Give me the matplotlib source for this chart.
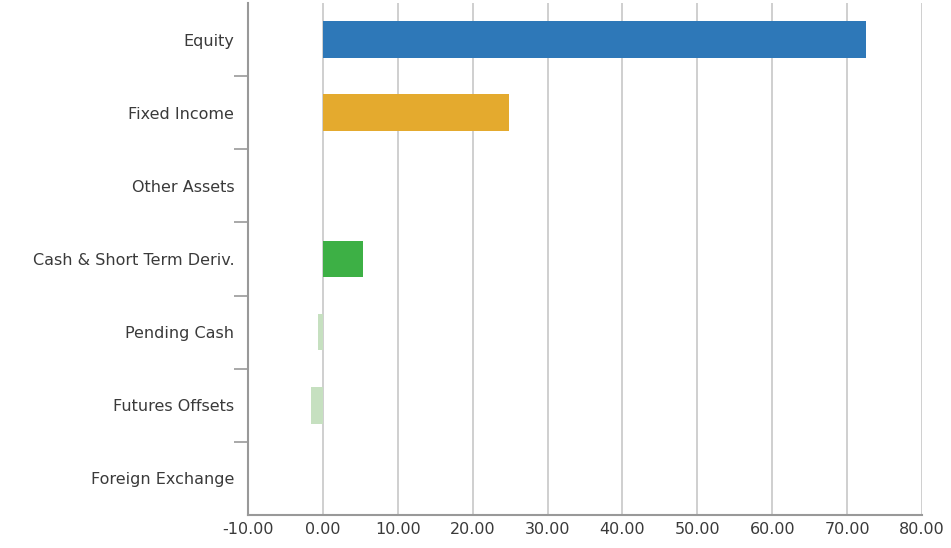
import matplotlib.pyplot as plt
import numpy as np

categories = ["Equity", "Fixed Income", "Other Assets", "Cash & Short Term Deriv.",
              "Pending Cash", "Futures Offsets", "Foreign Exchange"]
values = [72.5, 24.9, 0.0, 5.35, -0.6, -1.65, 0.0]
colors = ["#2e78b8", "#e4aa2e", "#ffffff", "#3db045", "#c6e0c0", "#c6e0c0", "#ffffff"]
x_ticks = [-10, 0, 10, 20, 30, 40, 50, 60, 70, 80]

plt.rcParams['font.family'] = ['DejaVu Sans']

fig = plt.figure(figsize=(9.51, 5.48), dpi=100)
ax = fig.add_axes([0.2608, 0.0602, 0.7087, 0.9343])

y = np.arange(len(categories))
ax.barh(y, values, height=0.5, color=colors, zorder=3)

ax.set_ylim(len(categories) - 0.5, -0.5)
ax.set_xlim(-10, 80)
ax.set_xticks(x_ticks)
ax.set_xticklabels(["%.2f" % v for v in x_ticks], fontsize=11.5, color="#3a3a3a")
ax.set_yticks(y)
ax.set_yticklabels(categories, fontsize=11.5, color="#3a3a3a")
ax.tick_params(axis='y', which='major', length=0, pad=10)
ax.tick_params(axis='x', which='major', length=0, pad=5)
ax.set_yticks(np.arange(len(categories) - 1) + 0.5, minor=True)
ax.tick_params(axis='y', which='minor', length=10, color="#999999", width=1.2)

for v in x_ticks[1:]:
    ax.axvline(v, color="#cccccc", linewidth=1.3, zorder=1)

for s in ["top", "right"]:
    ax.spines[s].set_visible(False)
for s in ["left", "bottom"]:
    ax.spines[s].set_color("#999999")
    ax.spines[s].set_linewidth(1.5)

fig.savefig("out.png", dpi=100)
